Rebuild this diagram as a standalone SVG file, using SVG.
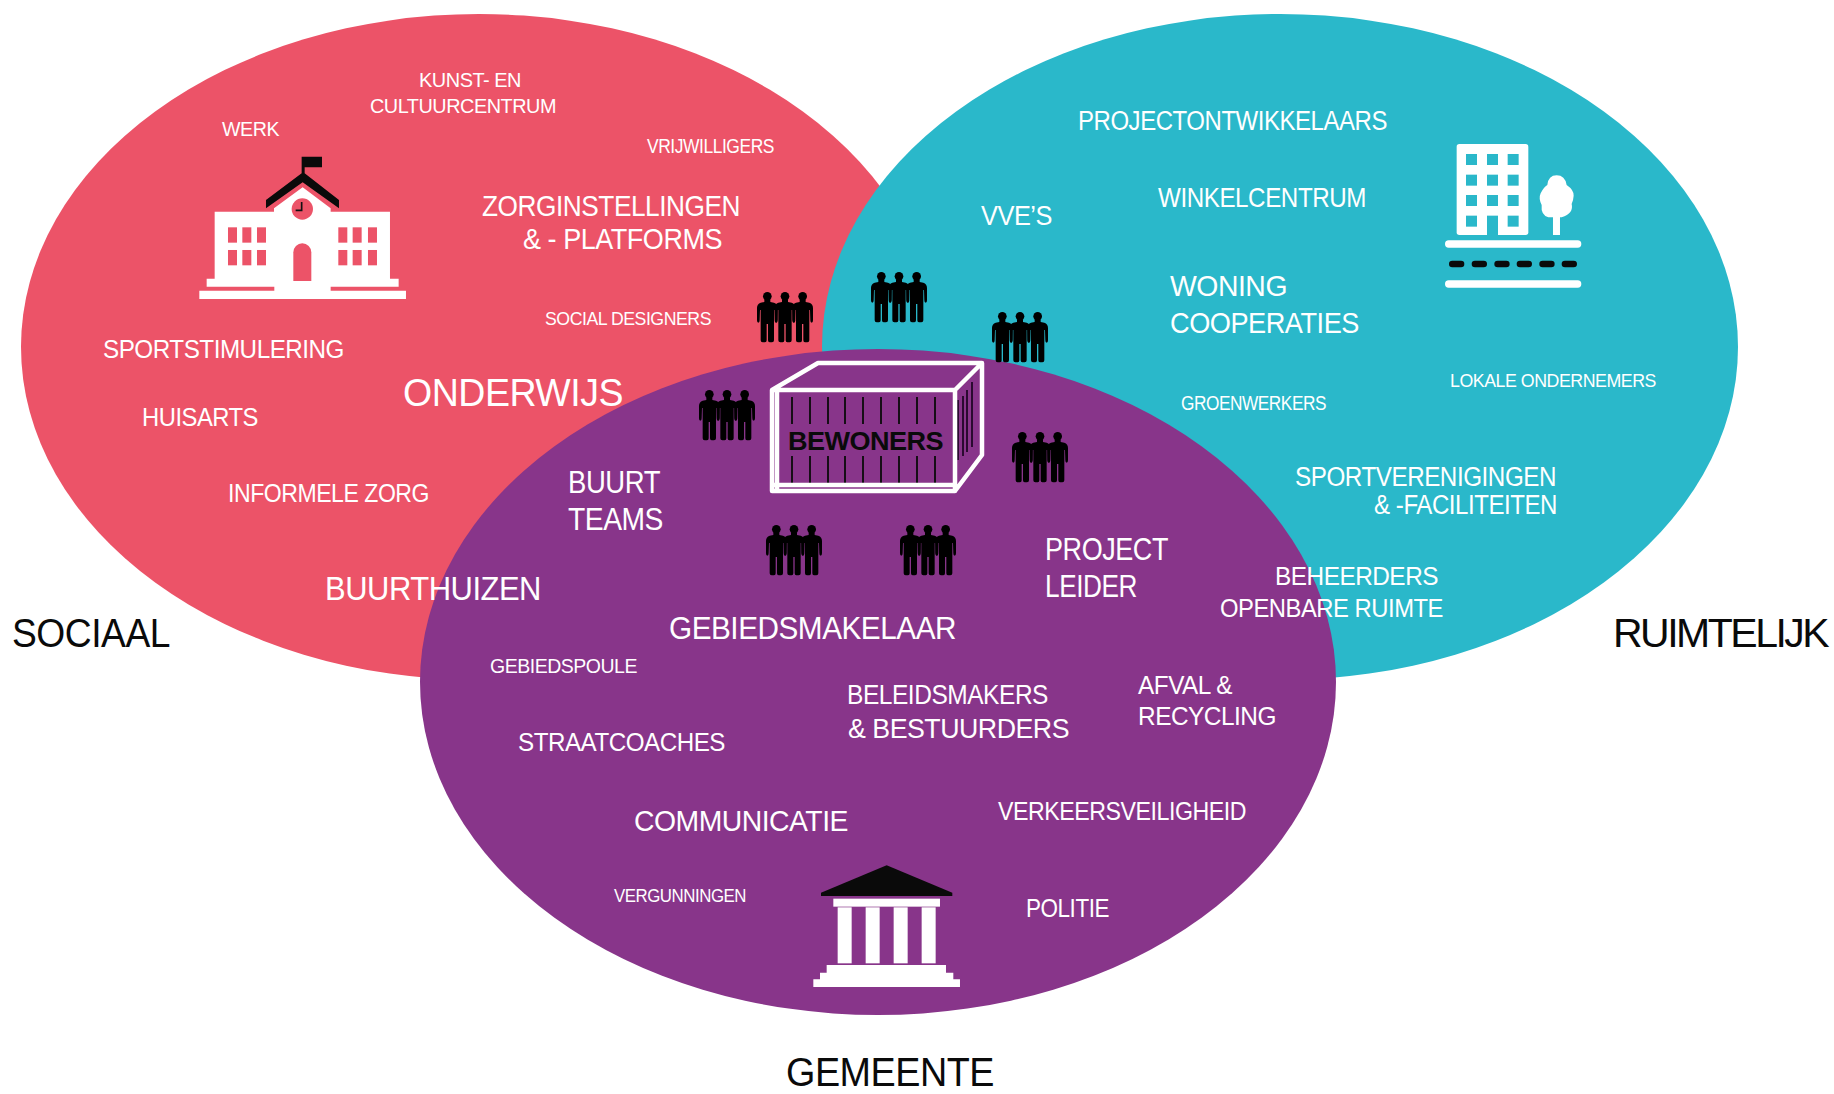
<svg xmlns="http://www.w3.org/2000/svg" xmlns:xlink="http://www.w3.org/1999/xlink" width="1834" height="1094" viewBox="0 0 1834 1094">
<style>
text{font-family:"Liberation Sans",Arial,sans-serif;fill:#fff;letter-spacing:-.5px}
.k{fill:#0a0a0a}
.i{fill:#fff}
.b{fill:#0a0a0a}
</style>
<defs>
<g id="p1"><circle cx="0" cy="13" r="13"/><path d="M-9 23H9L9 30 L20 32 Q31 36 31 48 L31 85 Q31 92 27 92 Q23 92 23 85 L22 54 L20 54 L20 145 Q20 151 14 151 L7 151 Q2 151 2 145 L2 96 L-2 96 L-2 145 Q-2 151 -7 151 L-14 151 Q-20 151 -20 145 L-20 54 L-22 54 L-23 85 Q-23 92 -27 92 Q-31 92 -31 85 L-31 48 Q-31 36 -20 32 L-9 30Z"/></g>
<g id="people" transform="scale(.3333)"><use xlink:href="#p1" href="#p1" x="31"/><use xlink:href="#p1" href="#p1" x="84"/><use xlink:href="#p1" href="#p1" x="137"/></g>
</defs>
<rect width="1834" height="1094" fill="#fff"/>
<g id="sociaal"><ellipse cx="479" cy="347" rx="458" ry="333" fill="#ec5368"/></g>
<g id="ruimtelijk"><ellipse cx="1280" cy="347" rx="458" ry="333" fill="#2ab8ca"/></g>
<g id="gemeente"><ellipse cx="878" cy="682" rx="458" ry="333" fill="#88358a"/></g>
<g id="connectors"></g>

<g id="school-icon" transform="translate(180 140) scale(.3333)">
<path class="b" d="M365 100V50H426V82H374V100L477 180V205L368 127L258 205V180Z"/>
<path class="i" d="M104 215H282V205L368 142L452 205V215H630V416H656V440H452V452H678V477H58V452H283V440H80V416H104Z"/>
<circle cx="367" cy="207" r="32" fill="#ec5368"/>
<path d="M365 186V211H347" fill="none" stroke="#111" stroke-width="5"/>
<g fill="#ec5368">
<rect x="144" y="262" width="27" height="46"/><rect x="187" y="262" width="27" height="46"/><rect x="231" y="262" width="27" height="46"/>
<rect x="144" y="330" width="27" height="46"/><rect x="187" y="330" width="27" height="46"/><rect x="231" y="330" width="27" height="46"/>
<rect x="475" y="262" width="27" height="46"/><rect x="518" y="262" width="27" height="46"/><rect x="564" y="262" width="27" height="46"/>
<rect x="475" y="330" width="27" height="46"/><rect x="518" y="330" width="27" height="46"/><rect x="564" y="330" width="27" height="46"/>
<path d="M340 423V337A27 27 0 0 1 394 337V423Z"/>
</g>
</g>

<g id="city-icon" transform="translate(1420 130) scale(.3333)">
<rect class="i" x="110" y="42" width="215" height="273" rx="8"/>
<g fill="#2ab8ca">
<rect x="138" y="72" width="33" height="33"/><rect x="201" y="72" width="33" height="33"/><rect x="263" y="72" width="33" height="33"/>
<rect x="138" y="134" width="33" height="33"/><rect x="201" y="134" width="33" height="33"/><rect x="263" y="134" width="33" height="33"/>
<rect x="138" y="195" width="33" height="33"/><rect x="201" y="195" width="33" height="33"/><rect x="263" y="195" width="33" height="33"/>
<rect x="138" y="257" width="33" height="33"/><rect x="201" y="257" width="33" height="58"/><rect x="263" y="257" width="33" height="33"/>
</g>
<path class="i" d="M399 315V262H385Q362 255 365 225Q355 205 362 190Q372 170 382 165Q385 136 410 136Q435 136 440 165Q462 180 461 197Q460 212 455 222Q462 250 425 262H420V315Z"/>
<rect class="i" x="75" y="331" width="409" height="22" rx="11"/>
<rect class="i" x="75" y="451" width="409" height="22" rx="11"/>
<g class="b"><rect x="87" y="392" width="46" height="20" rx="10"/><rect x="155" y="392" width="46" height="20" rx="10"/><rect x="223" y="392" width="46" height="20" rx="10"/><rect x="290" y="392" width="46" height="20" rx="10"/><rect x="358" y="392" width="46" height="20" rx="10"/><rect x="425" y="392" width="46" height="20" rx="10"/></g>
</g>

<g id="gov-icon" transform="translate(790 850) scale(.3333)">
<path class="b" d="M290 46L487 128V138H93V128Z"/>
<rect class="i" x="130" y="146" width="320" height="24"/>
<rect class="i" x="143" y="172" width="42" height="168"/><rect class="i" x="227" y="172" width="42" height="168"/><rect class="i" x="311" y="172" width="42" height="168"/><rect class="i" x="395" y="172" width="42" height="168"/>
<path class="i" d="M110 345H468V368H490V388H510V411H70V388H90V368H110Z"/>
</g>

<g id="bewoners">
<g stroke="#0a0a0a" stroke-width="2" fill="none" opacity=".9">
<path d="M792 397V424M810 397V424M828 397V424M845 397V424M863 397V424M881 397V424M899 397V424M917 397V424M935 397V424"/>
<path d="M792 456V485M810 456V485M828 456V485M845 456V485M863 456V485M881 456V485M899 456V485M917 456V485M935 456V485"/>
</g>
<path d="M958 400V460M963 396V456M967 390V452M972 382V447" stroke="#2a0a30" stroke-width="2" fill="none"/>
<path d="M772 390H955V491H772ZM772 390L818 363H982L955 390M982 363V455L955 491M777 390V491M772 485H955" fill="none" stroke="#fff" stroke-width="4.5" stroke-linejoin="round"/>
<text class="k" x="788" y="450" font-size="25" font-weight="700" textLength="155" lengthAdjust="spacingAndGlyphs">BEWONERS</text>
</g>

<g id="residents">
<use xlink:href="#people" href="#people" transform="translate(757 292)"/>
<use xlink:href="#people" href="#people" transform="translate(871 272)"/>
<use xlink:href="#people" href="#people" transform="translate(992 312)"/>
<use xlink:href="#people" href="#people" transform="translate(699 390)"/>
<use xlink:href="#people" href="#people" transform="translate(1012 432)"/>
<use xlink:href="#people" href="#people" transform="translate(766 525)"/>
<use xlink:href="#people" href="#people" transform="translate(900 525)"/>
</g>

<g id="labels-sociaal">
<text x="419" y="87" font-size="21" textLength="102" lengthAdjust="spacingAndGlyphs">KUNST- EN</text>
<text x="370" y="113" font-size="21" textLength="186" lengthAdjust="spacingAndGlyphs">CULTUURCENTRUM</text>
<text x="222" y="136" font-size="21" textLength="57" lengthAdjust="spacingAndGlyphs">WERK</text>
<text x="647" y="153" font-size="19.5" textLength="127" lengthAdjust="spacingAndGlyphs">VRIJWILLIGERS</text>
<text x="482" y="216" font-size="29.5" textLength="258" lengthAdjust="spacingAndGlyphs">ZORGINSTELLINGEN</text>
<text x="523" y="249" font-size="29.5" textLength="199" lengthAdjust="spacingAndGlyphs">&amp; - PLATFORMS</text>
<text x="545" y="325" font-size="19" textLength="166" lengthAdjust="spacingAndGlyphs">SOCIAL DESIGNERS</text>
<text x="103" y="358" font-size="25" textLength="241" lengthAdjust="spacingAndGlyphs">SPORTSTIMULERING</text>
<text x="142" y="426" font-size="25" textLength="116" lengthAdjust="spacingAndGlyphs">HUISARTS</text>
<text x="403" y="406" font-size="39" textLength="220" lengthAdjust="spacingAndGlyphs">ONDERWIJS</text>
<text x="228" y="502" font-size="25" textLength="201" lengthAdjust="spacingAndGlyphs">INFORMELE ZORG</text>
<text x="325" y="600" font-size="33" textLength="216" lengthAdjust="spacingAndGlyphs">BUURTHUIZEN</text>
</g>
<g id="labels-gemeente">
<text x="568" y="493" font-size="31" textLength="92" lengthAdjust="spacingAndGlyphs">BUURT</text>
<text x="568" y="530" font-size="31" textLength="95" lengthAdjust="spacingAndGlyphs">TEAMS</text>
<text x="1045" y="560" font-size="31" textLength="123" lengthAdjust="spacingAndGlyphs">PROJECT</text>
<text x="1045" y="597" font-size="31" textLength="92" lengthAdjust="spacingAndGlyphs">LEIDER</text>
<text x="669" y="639" font-size="32" textLength="287" lengthAdjust="spacingAndGlyphs">GEBIEDSMAKELAAR</text>
<text x="490" y="673" font-size="20.5" textLength="147" lengthAdjust="spacingAndGlyphs">GEBIEDSPOULE</text>
<text x="847" y="704" font-size="27" textLength="201" lengthAdjust="spacingAndGlyphs">BELEIDSMAKERS</text>
<text x="848" y="738" font-size="27" textLength="221" lengthAdjust="spacingAndGlyphs">&amp; BESTUURDERS</text>
<text x="1138" y="694" font-size="25" textLength="94" lengthAdjust="spacingAndGlyphs">AFVAL &amp;</text>
<text x="1138" y="725" font-size="25" textLength="138" lengthAdjust="spacingAndGlyphs">RECYCLING</text>
<text x="518" y="751" font-size="26" textLength="207" lengthAdjust="spacingAndGlyphs">STRAATCOACHES</text>
<text x="634" y="831" font-size="29" textLength="214" lengthAdjust="spacingAndGlyphs">COMMUNICATIE</text>
<text x="998" y="820" font-size="25" textLength="248" lengthAdjust="spacingAndGlyphs">VERKEERSVEILIGHEID</text>
<text x="614" y="902" font-size="18.5" textLength="132" lengthAdjust="spacingAndGlyphs">VERGUNNINGEN</text>
<text x="1026" y="917" font-size="25" textLength="83" lengthAdjust="spacingAndGlyphs">POLITIE</text>
</g>
<g id="labels-ruimtelijk">
<text x="1275" y="585" font-size="25" textLength="163" lengthAdjust="spacingAndGlyphs">BEHEERDERS</text>
<text x="1220" y="617" font-size="25" textLength="223" lengthAdjust="spacingAndGlyphs">OPENBARE RUIMTE</text>
<text x="1295" y="486" font-size="27" textLength="261" lengthAdjust="spacingAndGlyphs">SPORTVERENIGINGEN</text>
<text x="1374" y="514" font-size="27" textLength="183" lengthAdjust="spacingAndGlyphs">&amp; -FACILITEITEN</text>
<text x="1181" y="410" font-size="19.5" textLength="145" lengthAdjust="spacingAndGlyphs">GROENWERKERS</text>
<text x="1450" y="387" font-size="19" textLength="206" lengthAdjust="spacingAndGlyphs">LOKALE ONDERNEMERS</text>
<text x="1170" y="296" font-size="30" textLength="117" lengthAdjust="spacingAndGlyphs">WONING</text>
<text x="1170" y="333" font-size="30" textLength="189" lengthAdjust="spacingAndGlyphs">COOPERATIES</text>
<text x="1158" y="207" font-size="28" textLength="208" lengthAdjust="spacingAndGlyphs">WINKELCENTRUM</text>
<text x="981" y="225" font-size="27" textLength="71" lengthAdjust="spacingAndGlyphs">VVE’S</text>
<text x="1078" y="130" font-size="27" textLength="309" lengthAdjust="spacingAndGlyphs">PROJECTONTWIKKELAARS</text>
</g>
<g id="titles">
<text class="k" x="12" y="647" font-size="41" textLength="158" lengthAdjust="spacingAndGlyphs">SOCIAAL</text>
<text class="k" x="1613" y="647" font-size="41" style="letter-spacing:-2.5px">RUIMTELIJK</text>
<text class="k" x="786" y="1086" font-size="40" textLength="208" lengthAdjust="spacingAndGlyphs">GEMEENTE</text>
</g>
</svg>
